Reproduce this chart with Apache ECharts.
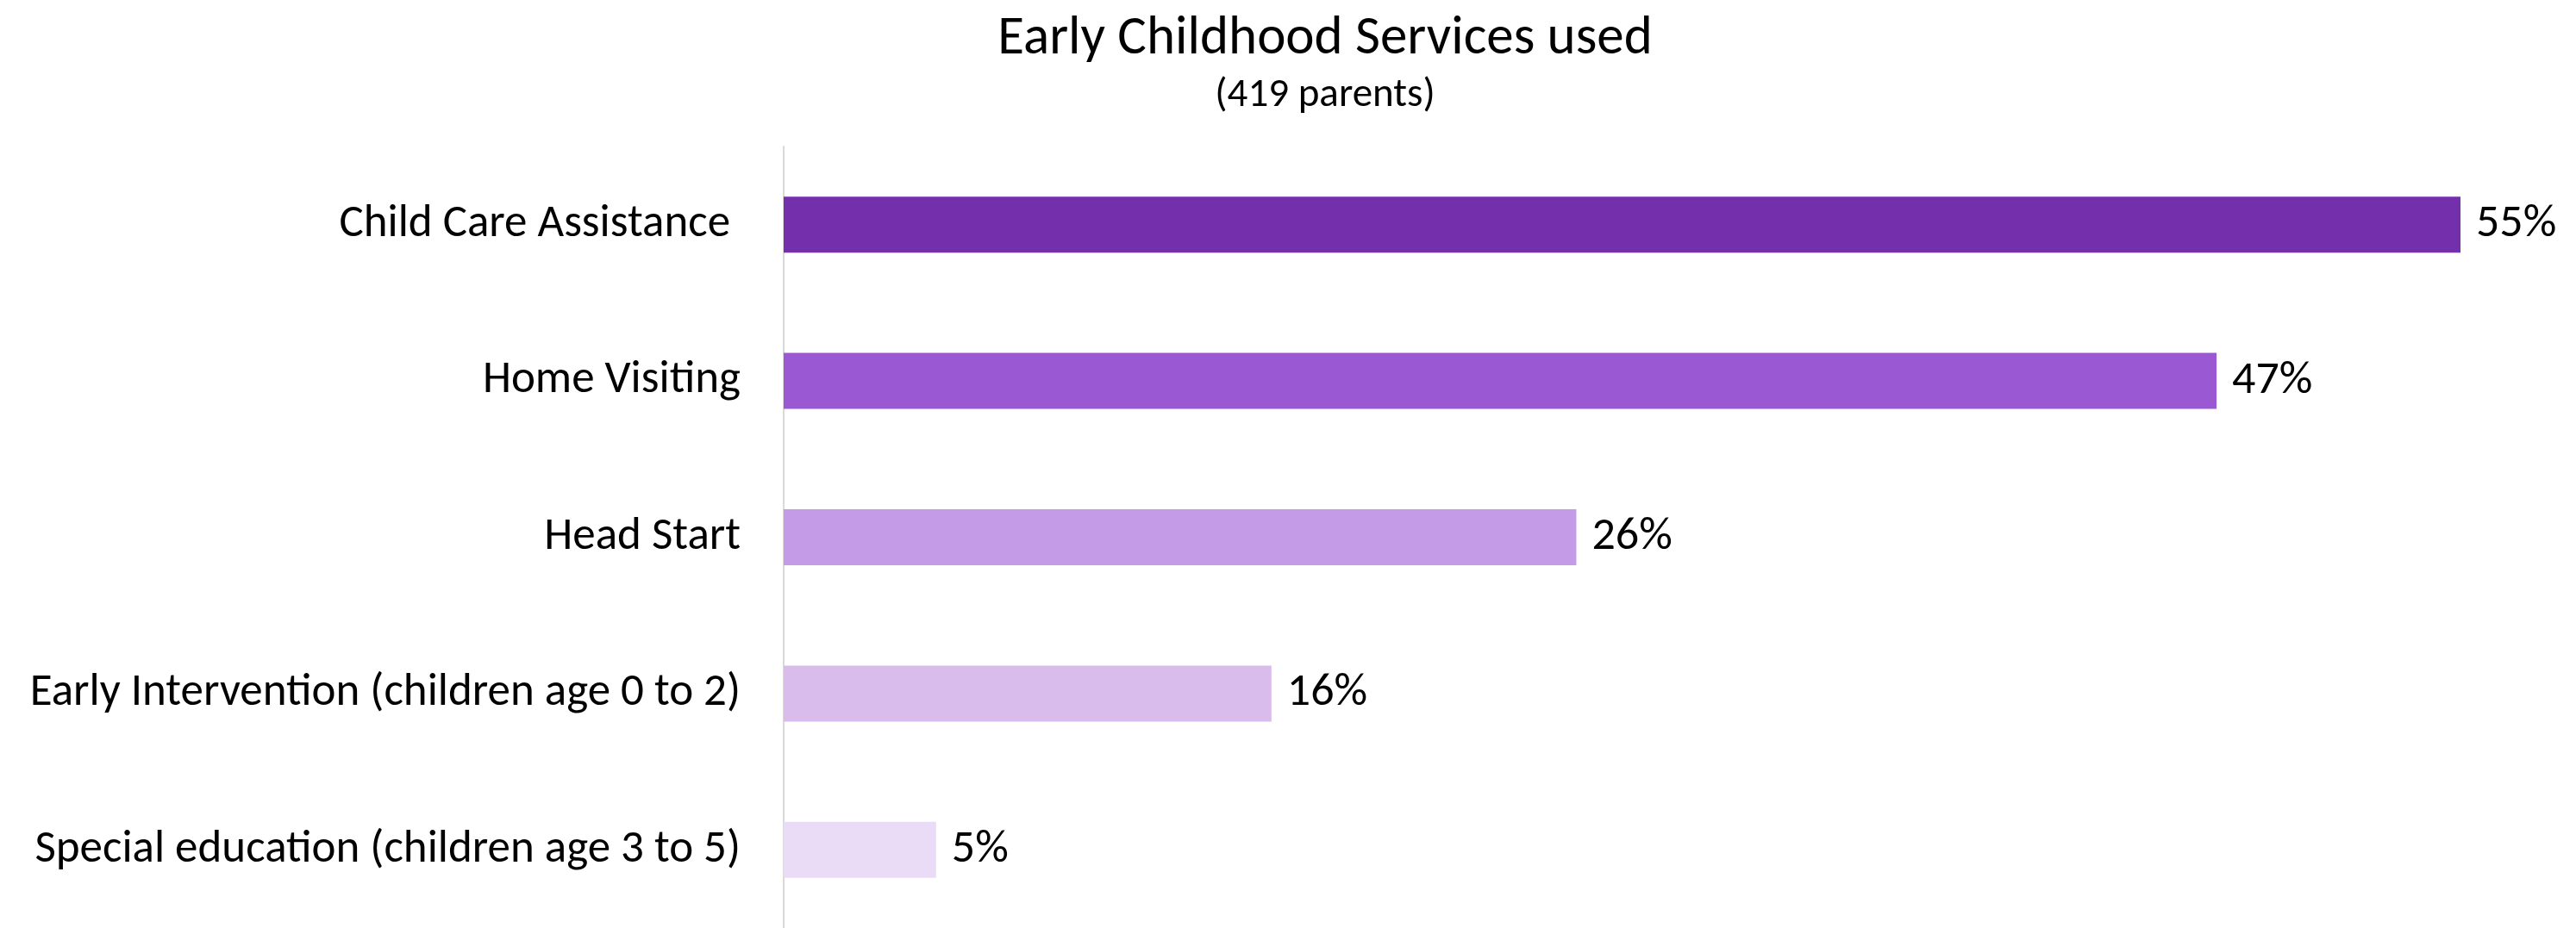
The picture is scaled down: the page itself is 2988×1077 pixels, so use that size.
<!DOCTYPE html>
<html>
<head>
<meta charset="utf-8">
<script src="https://cdn.jsdelivr.net/npm/echarts@6/dist/echarts.min.js"></script>
<style>
html,body{margin:0;padding:0;background:#fff;}
#chart{width:2988px;height:1077px;}
</style>
</head>
<body>
<div id="chart"></div>
<script>
const categories = [
  "Child Care Assistance ",
  "Home Visiting",
  "Head Start",
  "Early Intervention (children age 0 to 2)",
  "Special education (children age 3 to 5)"
];
const values = [55, 47, 26, 16, 5];
const barColors = ["#742FAD", "#9B58D3", "#C49BE6", "#D9BCEC", "#EADCF6"];
const titleText = "Early Childhood Services used";
const subtitleText = "(419 parents)";

const FONT = "Carlito, Calibri, Lato, sans-serif";
const chart = echarts.init(document.getElementById('chart'), null, {renderer: 'canvas'});
chart.setOption({
  backgroundColor: '#ffffff',
  animation: false,
  title: {
    text: titleText,
    subtext: subtitleText,
    left: 1532,
    textAlign: 'center',
    top: 10,
    itemGap: 10,
    textStyle: {fontFamily: FONT, fontSize: 63, fontWeight: 'normal', color: '#000'},
    subtextStyle: {fontFamily: FONT, fontSize: 47, color: '#000'}
  },
  grid: {left: 909, top: 170, width: 1945, height: 915, containLabel: false},
  xAxis: {
    type: 'value', min: 0, max: 55, show: false
  },
  yAxis: {
    type: 'category',
    data: categories,
    inverse: true,
    axisLine: {show: true, lineStyle: {color: '#D9D9D9', width: 2}},
    axisTick: {show: false},
    axisLabel: {fontFamily: FONT, fontSize: 53, color: '#000', margin: 50}
  },
  series: [{
    type: 'bar',
    data: values.map((v, i) => ({value: v, itemStyle: {color: barColors[i]}})),
    barWidth: 65,
    label: {
      show: true, position: 'right', distance: 18,
      formatter: p => p.value + '%',
      fontFamily: FONT, fontSize: 54, color: '#000'
    }
  }]
});
</script>
</body>
</html>
